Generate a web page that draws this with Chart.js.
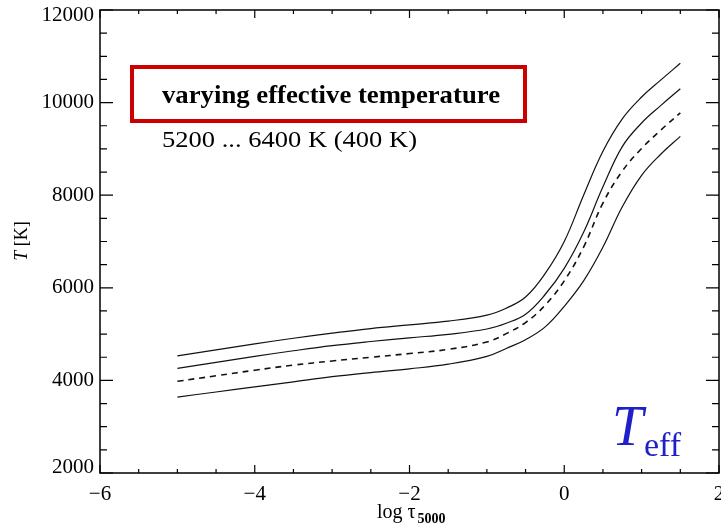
<!DOCTYPE html>
<html>
<head>
<meta charset="utf-8">
<script src="https://cdn.jsdelivr.net/npm/chart.js@4/dist/chart.umd.min.js"></script>
<style>
  html, body { margin: 0; padding: 0; background: #fff; }
  canvas { display: block; }
</style>
</head>
<body>
<canvas id="c" width="721" height="532"></canvas>
<script>
// log tau_5000 grid (same for all 4 models)
const logTau = [-5, -4.5, -4, -3.5, -3, -2.5, -2, -1.5, -1, -0.75, -0.5, -0.25, 0, 0.25, 0.5, 0.75, 1, 1.25, 1.5];

// T [K] for Teff = 6400, 6000, 5600 (dashed), 5200
const t6400 = [4530, 4660, 4790, 4910, 5020, 5120, 5200, 5280, 5410, 5560, 5800, 6300, 7000, 8000, 8950, 9650, 10120, 10490, 10850];
const t6000 = [4260, 4390, 4520, 4640, 4750, 4840, 4920, 4995, 5110, 5235, 5430, 5850, 6420, 7200, 8180, 9050, 9560, 9940, 10300];
const t5600 = [3980, 4100, 4220, 4330, 4420, 4500, 4580, 4670, 4830, 5010, 5250, 5620, 6150, 6880, 7830, 8520, 9010, 9410, 9780];
const t5200 = [3640, 3750, 3860, 3970, 4080, 4170, 4250, 4350, 4520, 4690, 4880, 5150, 5600, 6150, 6880, 7750, 8430, 8890, 9270];

const xTicks = [-6, -4, -2, 0, 2];
const yTicks = [2000, 4000, 6000, 8000, 10000, 12000];

const boxTitle = 'varying effective temperature';
const boxSub = '5200 ... 6400 K (400 K)';

const serif = '"Liberation Serif", "Times New Roman", serif';

function pts(ys) {
  return logTau.map(function (x, i) { return { x: x, y: ys[i] }; });
}

function curve(ys, dashed) {
  return {
    data: pts(ys),
    borderColor: '#111',
    borderWidth: dashed ? 1.6 : 1.2,
    borderDash: dashed ? [6, 5] : [],
    pointRadius: 0,
    fill: false,
    tension: 0.4
  };
}

// text squeezed/stretched to a given width
function fitText(ctx, txt, x, y, width) {
  const w = ctx.measureText(txt).width;
  ctx.save();
  ctx.translate(x, y);
  ctx.scale(width / w, 1);
  ctx.fillText(txt, 0, 0);
  ctx.restore();
}

// frame, inward ticks, texts
const decor = {
  id: 'decor',
  afterDraw(chart) {
    const ctx = chart.ctx;
    const a = chart.chartArea;
    const xs = chart.scales.x, ys = chart.scales.y;
    ctx.save();
    ctx.strokeStyle = '#000';
    ctx.lineWidth = 1.5;
    ctx.strokeRect(a.left, a.top, a.right - a.left, a.bottom - a.top);

    ctx.lineWidth = 1.2;
    ctx.beginPath();
    for (let v = -6; v <= 2.001; v += 0.5) {
      const px = xs.getPixelForValue(v);
      const L = xTicks.includes(v) ? 8 : 4;
      ctx.moveTo(px, a.bottom); ctx.lineTo(px, a.bottom - L);
      ctx.moveTo(px, a.top); ctx.lineTo(px, a.top + L);
    }
    for (let v = 2000; v <= 12000; v += 500) {
      const py = ys.getPixelForValue(v);
      const L = yTicks.includes(v) ? 13 : 7;
      ctx.moveTo(a.left, py); ctx.lineTo(a.left + L, py);
      ctx.moveTo(a.right, py); ctx.lineTo(a.right - L, py);
    }
    ctx.stroke();

    // red box
    ctx.strokeStyle = '#cc0000';
    ctx.lineWidth = 4;
    ctx.strokeRect(132, 67, 393, 54);
    ctx.fillStyle = '#000';
    ctx.textBaseline = 'alphabetic';
    ctx.textAlign = 'left';
    ctx.font = 'bold 26px ' + serif;
    fitText(ctx, boxTitle, 162, 103, 338);
    ctx.font = '23px ' + serif;
    fitText(ctx, boxSub, 162, 147, 255);

    // T_eff
    ctx.fillStyle = '#2020c8';
    ctx.font = 'italic 56px ' + serif;
    ctx.fillText('T', 612, 445);
    ctx.font = '34px ' + serif;
    ctx.fillText('eff', 644, 456);

    // x title
    ctx.fillStyle = '#000';
    ctx.font = '20px ' + serif;
    ctx.fillText('log \u03c4', 377, 518);
    const w = ctx.measureText('log \u03c4').width;
    ctx.font = 'bold 14px ' + serif;
    ctx.fillText('5000', 377 + w + 2, 523);

    // y title
    ctx.translate(27, 241);
    ctx.rotate(-Math.PI / 2);
    ctx.font = 'italic 18px ' + serif;
    const w1 = ctx.measureText('T').width;
    ctx.font = '18px ' + serif;
    const w2 = ctx.measureText(' [K]').width;
    const x0 = -(w1 + w2) / 2;
    ctx.font = 'italic 18px ' + serif;
    ctx.fillText('T', x0, 0);
    ctx.font = '18px ' + serif;
    ctx.fillText(' [K]', x0 + w1, 0);
    ctx.restore();
  }
};

new Chart(document.getElementById('c'), {
  type: 'line',
  data: {
    datasets: [
      curve(t6400, false),
      curve(t6000, false),
      curve(t5600, true),
      curve(t5200, false)
    ]
  },
  options: {
    responsive: false,
    animation: false,
    devicePixelRatio: 1,
    layout: { padding: { top: 10, right: 2, left: 0, bottom: 0 } },
    plugins: { legend: { display: false }, tooltip: { enabled: false } },
    scales: {
      x: {
        type: 'linear',
        min: -6, max: 2,
        grid: { display: false, drawTicks: false },
        border: { display: false },
        ticks: {
          stepSize: 2,
          padding: 9,
          color: '#000',
          font: { family: serif, size: 21 },
          maxRotation: 0,
          callback: function (v) { return v < 0 ? '\u2212' + Math.abs(v) : String(v); }
        },
        afterFit: function (s) { s.width; s.height = 59; s.paddingLeft = 0; s.paddingRight = 0; }
      },
      y: {
        min: 2000, max: 12000,
        grid: { display: false, drawTicks: false },
        border: { display: false },
        ticks: {
          stepSize: 2000,
          padding: 6,
          color: '#000',
          // end labels are kept inside the frame, like the original
          font: function (c) {
            const v = c.tick ? c.tick.value : 0;
            return { family: serif, size: 21, lineHeight: (v === 12000 || v === 2000) ? 0.55 : 1.2 };
          },
          callback: function (v) {
            if (v === 12000) return ['', String(v)];
            if (v === 2000) return [String(v), ''];
            return String(v);
          }
        },
        afterFit: function (s) { s.width = 100; s.paddingTop = 0; s.paddingBottom = 0; }
      }
    }
  },
  plugins: [decor]
});
</script>
</body>
</html>
